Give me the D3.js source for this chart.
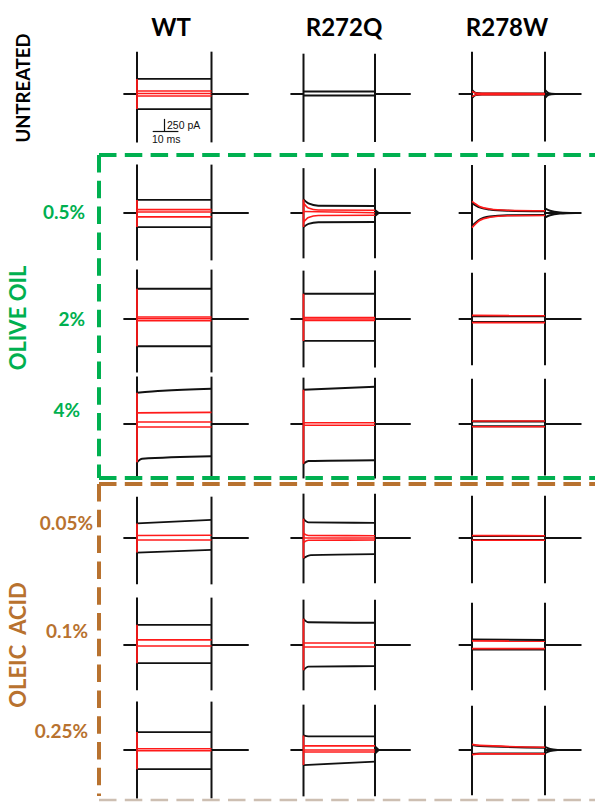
<!DOCTYPE html>
<html>
<head>
<meta charset="utf-8">
<script src="https://cdn.jsdelivr.net/npm/d3@7"></script>
<style>
  html, body { margin: 0; padding: 0; background: #fff; }
  svg { display: block; }
</style>
</head>
<body>
<script>
// Whole-cell current families, one panel per genotype and treatment.
// Currents in pA (outward positive), time in ms from the step onset.

const genotypes = ['WT', 'R272Q', 'R278W'];
const treatments = ['UNTREATED', 'OLIVE OIL', 'OLEIC  ACID'];
const doses = ['', '0.5%', '2%', '4%', '0.05%', '0.1%', '0.25%'];
const doseGroup = [0, 1, 1, 1, 2, 2, 2];

// sweep: start, step onset, step offset, end (ms)
const sweepMs = [-5.3, 0, 29, 43.5];

// capacitive transient peaks [outward, inward] per dose row
const capsWT    = [[840, -960], [960, -940], [980, -1060], [940, -1080], [820, -920], [940, -900], [960, -960]];
const capsR272Q = [[800, -950], [890, -900], [960, -960], [920, -1080], [880, -900], [900, -900], [900, -920]];
const capsR278W = [[840, -940], [950, -930], [920, -920], [900, -1020], [840, -900], [840, -900], [880, -900]];

// k = black sweep, r = red sweep; p = step current [ms, pA];
// on = onset transient peak of red sweep; t = tail after offset [ms, pA]
const tracesWT = [
  [ {k:'k', p:[[0, 300], [29, 300]]},
    {k:'k', p:[[0, -300], [29, -300]]},
    {k:'r', on: 300, p:[[0, 60], [29, 60]]},
    {k:'r', on: -300, p:[[0, -40], [29, -40]]},
    {k:'r', p:[[0, 10], [29, 10]]} ],
  [ {k:'k', p:[[0, 260], [29, 260]]},
    {k:'k', p:[[0, -280], [29, -280]]},
    {k:'r', on: 260, p:[[0, 65], [29, 65]]},
    {k:'r', on: -280, p:[[0, -75], [29, -75]]},
    {k:'r', p:[[0, 20], [29, 20]]} ],
  [ {k:'k', p:[[0, 600], [29, 600]]},
    {k:'k', p:[[0, -540], [29, -540]]},
    {k:'r', on: 600, p:[[0, 40], [29, 40]]},
    {k:'r', on: -540, p:[[0, -35], [29, -35]]},
    {k:'r', p:[[0, 5], [29, 5]]} ],
  [ {k:'k', p:[[0, 620], [10, 660], [29, 700]]},
    {k:'k', p:[[0, -760], [2, -690], [29, -640]]},
    {k:'r', on: 620, p:[[0, 220], [29, 230]]},
    {k:'r', on: -760, p:[[0, -60], [29, -60]]},
    {k:'r', p:[[0, 40], [29, 40]]} ],
  [ {k:'k', p:[[0, 290], [29, 360]]},
    {k:'k', p:[[0, -290], [29, -235]]},
    {k:'r', on: 290, p:[[0, 50], [29, 55]]},
    {k:'r', on: -290, p:[[0, -40], [29, -40]]} ],
  [ {k:'k', p:[[0, 400], [29, 400]]},
    {k:'k', p:[[0, -360], [29, -360]]},
    {k:'r', on: 400, p:[[0, 100], [29, 100]]},
    {k:'r', on: -360, p:[[0, -20], [29, -20]]} ],
  [ {k:'k', p:[[0, 355], [29, 355]]},
    {k:'k', p:[[0, -380], [29, -380]]},
    {k:'r', on: 355, p:[[0, 25], [29, 25]]},
    {k:'r', on: -380, p:[[0, -15], [29, -15]]} ]
];

const tracesR272Q = [
  [ {k:'k', p:[[0, 50], [29, 50]]},
    {k:'k', p:[[0, -30], [29, -30]]} ],
  [ {k:'k', p:[[0, 270], [2, 190], [6, 145], [29, 140]], t:[[0, -60], [1.5, 0]]},
    {k:'k', p:[[0, -280], [2, -215], [6, -185], [29, -180]], t:[[0, 60], [1.5, 0]]},
    {k:'r', on: 270, p:[[0, 200], [2, 100], [6, 60], [29, 55]]},
    {k:'r', on: -280, p:[[0, -185], [2, -90], [6, -50], [29, -45]]},
    {k:'r', p:[[0, 30], [29, 5]]} ],
  [ {k:'k', p:[[0, 500], [29, 500]]},
    {k:'k', p:[[0, -435], [29, -435]]},
    {k:'r', on: 500, p:[[0, 30], [29, 30]]},
    {k:'r', on: -435, p:[[0, -30], [29, -30]]},
    {k:'r', p:[[0, 0], [29, 0]]} ],
  [ {k:'k', p:[[0, 680], [29, 740]]},
    {k:'k', p:[[0, -790], [2, -735], [29, -720]]},
    {k:'r', on: 680, p:[[0, 25], [29, 25]]},
    {k:'r', on: -790, p:[[0, -25], [29, -25]]} ],
  [ {k:'k', p:[[0, 380], [2, 310], [29, 300]]},
    {k:'k', p:[[0, -400], [3, -340], [29, -320]]},
    {k:'r', on: 380, p:[[0, 90], [2, 50], [29, 45]]},
    {k:'r', on: -400, p:[[0, -90], [2, -45], [29, -40]]},
    {k:'r', p:[[0, 0], [29, 0]]} ],
  [ {k:'k', p:[[0, 520], [2, 450], [29, 440]]},
    {k:'k', p:[[0, -500], [2, -430], [29, -420]]},
    {k:'r', on: 520, p:[[0, 40], [29, 40]]},
    {k:'r', on: -500, p:[[0, -40], [29, -40]]} ],
  [ {k:'k', p:[[0, 290], [2, 270], [29, 270]], t:[[0, -70], [1.5, 0]]},
    {k:'k', p:[[0, -300], [29, -230]], t:[[0, 70], [1.5, 0]]},
    {k:'r', on: 290, p:[[0, 80], [29, 80]]},
    {k:'r', p:[[0, 0], [29, 0]]},
    {k:'r', on: -300, p:[[0, -40], [29, -40]]} ]
];

const tracesR278W = [
  [ {k:'k', p:[[0, 80], [1.5, 20], [4, 10], [29, 10]], t:[[0, -80], [1.5, -15], [4, 0]]},
    {k:'k', p:[[0, -80], [1.5, -20], [4, -10], [29, -10]], t:[[0, 80], [1.5, 15], [4, 0]]},
    {k:'r', p:[[0, 50], [2, 15], [29, 10]]},
    {k:'r', p:[[0, -50], [2, -15], [29, -10]]} ],
  [ {k:'k', p:[[0, 200], [3, 110], [7, 70], [14, 45], [29, 35]], t:[[0, -90], [2, -45], [6, -12], [12, 0]]},
    {k:'k', p:[[0, -260], [3, -130], [7, -70], [14, -45], [29, -40]], t:[[0, 90], [2, 45], [6, 12], [12, 0]]},
    {k:'r', p:[[0, 230], [3, 130], [7, 80], [14, 55], [29, 45]]},
    {k:'r', p:[[0, -290], [3, -150], [7, -85], [14, -55], [29, -50]]} ],
  [ {k:'k', p:[[0, 55], [29, 55]]},
    {k:'k', p:[[0, -60], [29, -60]]},
    {k:'r', p:[[0, 70], [29, 65]]},
    {k:'r', p:[[0, -70], [29, -70]]} ],
  [ {k:'k', p:[[0, 50], [29, 50]]},
    {k:'k', p:[[0, -45], [29, -45]]},
    {k:'r', p:[[0, 60], [29, 60]]},
    {k:'r', p:[[0, -55], [29, -55]]} ],
  [ {k:'k', p:[[0, 40], [29, 40]]},
    {k:'k', p:[[0, -40], [29, -40]]},
    {k:'r', p:[[0, 50], [29, 45]]},
    {k:'r', p:[[0, -45], [29, -45]]} ],
  [ {k:'k', p:[[0, 110], [29, 100]]},
    {k:'k', p:[[0, -90], [29, -90]]},
    {k:'r', p:[[0, 80], [29, 75]]},
    {k:'r', p:[[0, -70], [29, -70]]} ],
  [ {k:'k', p:[[0, 100], [3, 80], [29, 45]], t:[[0, -60], [2, -20], [5, 0]]},
    {k:'k', p:[[0, -80], [3, -70], [29, -70]], t:[[0, 60], [2, 20], [5, 0]]},
    {k:'r', p:[[0, 110], [3, 90], [29, 55]]},
    {k:'r', p:[[0, -90], [3, -75], [29, -75]]} ]
];

// scale bar values
const scaleBarMs = 10;
const scaleBarPA = 250;

const capsBy = [capsWT, capsR272Q, capsR278W];
const tracesBy = [tracesWT, tracesR272Q, tracesR278W];

// ---------- layout ----------
const W = 595, H = 802;
const GREEN = '#00b050', BROWN = '#b8722f', RED = '#ff1a1a', INK = '#111';
const rowY = [94, 213, 319, 424, 538, 645, 750];
const colOnset = [137, 303.5, 472];
const colStepPx = [74.5, 71.5, 73];
const headerX = [171, 344, 507];
const doseX = [0, 85, 85, 80, 93, 88, 88];
const doseY = [0, 219, 326, 417, 530, 638, 738];

const svg = d3.select('body').append('svg')
  .attr('width', W).attr('height', H)
  .attr('viewBox', `0 0 ${W} ${H}`);
svg.append('rect').attr('width', W).attr('height', H).attr('fill', '#fff');

const xScales = colOnset.map((x0, i) =>
  d3.scaleLinear().domain([0, sweepMs[2]]).range([x0, x0 + colStepPx[i]]));
const yPA = d3.scaleLinear().domain([0, scaleBarPA]).range([0, -12.6]);

const stepLine = d3.line().curve(d3.curveMonotoneX);
const straight = d3.line();

genotypes.forEach((gName, c) => {
  const x = xScales[c];
  rowY.forEach((y0, r) => {
    const g = svg.append('g').attr('class', `panel ${gName}-${r}`);
    const Y = v => y0 + yPA(v);
    const X = t => x(t);
    const tOff = sweepMs[2];

    // holding baseline before and after the step
    g.append('path')
      .attr('d', straight([[X(sweepMs[0]), Y(0)], [X(0), Y(0)]]))
      .attr('stroke', INK).attr('stroke-width', 2).attr('fill', 'none');
    g.append('path')
      .attr('d', straight([[X(tOff), Y(0)], [X(sweepMs[3]), Y(0)]]))
      .attr('stroke', INK).attr('stroke-width', 2).attr('fill', 'none');

    const traces = tracesBy[c][r];
    const drawTrace = tr => {
      const col = tr.k === 'r' ? RED : INK;
      const sw = tr.k === 'r' ? 1.7 : 1.9;
      if (tr.on !== undefined) {
        g.append('path')
          .attr('d', straight([[X(0), Y(0)], [X(0), Y(tr.on)], [X(0), Y(tr.p[0][1])]]))
          .attr('stroke', col).attr('stroke-width', 1.8).attr('fill', 'none');
      }
      g.append('path')
        .attr('d', stepLine(tr.p.map(d => [X(d[0]), Y(d[1])])))
        .attr('stroke', col).attr('stroke-width', sw).attr('fill', 'none');
      if (tr.t) {
        g.append('path')
          .attr('d', stepLine(tr.t.map(d => [X(tOff + d[0]), Y(d[1])])))
          .attr('stroke', col).attr('stroke-width', sw).attr('fill', 'none');
      }
    };

    traces.filter(t => t.k === 'k').forEach(drawTrace);

    // capacitive transients at step onset and offset
    const cap = capsBy[c][r];
    [0, tOff].forEach(t => {
      g.append('line')
        .attr('x1', X(t)).attr('x2', X(t))
        .attr('y1', Y(cap[0])).attr('y2', Y(cap[1]))
        .attr('stroke', INK).attr('stroke-width', 2);
    });

    traces.filter(t => t.k === 'r').forEach(drawTrace);
  });
});

// scale bar (WT time base)
{
  const x = xScales[0];
  const xv = 164.5, yb = 131.5;
  const t0 = x.invert(152.7);
  svg.append('line')
    .attr('x1', x(t0)).attr('x2', x(t0 + scaleBarMs))
    .attr('y1', yb).attr('y2', yb)
    .attr('stroke', INK).attr('stroke-width', 1.2);
  svg.append('line')
    .attr('x1', xv).attr('x2', xv)
    .attr('y1', yb).attr('y2', yb + yPA(scaleBarPA))
    .attr('stroke', INK).attr('stroke-width', 1.2);
  svg.append('text').attr('x', 167).attr('y', 129)
    .attr('font-family', 'Liberation Sans, Arial, sans-serif').attr('font-size', 10.5)
    .attr('fill', INK).text(`${scaleBarPA} pA`);
  svg.append('text').attr('x', 152).attr('y', 142.5)
    .attr('font-family', 'Liberation Sans, Arial, sans-serif').attr('font-size', 10.5)
    .attr('fill', INK).text(`${scaleBarMs} ms`);
}

// column headers
svg.selectAll('text.hdr').data(genotypes).join('text')
  .attr('class', 'hdr')
  .attr('x', (d, i) => headerX[i]).attr('y', 36)
  .attr('text-anchor', 'middle')
  .attr('font-family', 'Lato, "Open Sans", sans-serif')
  .attr('font-weight', 700).attr('font-size', 24)
  .attr('fill', '#000').text(d => d);

// treatment labels (rotated)
const treatPos = [[29.5, 88, '#000', 18.5], [26, 318, GREEN, 22], [26, 645, BROWN, 22]];
treatments.forEach((t, i) => {
  const [tx, ty, col, fs] = treatPos[i];
  svg.append('text')
    .attr('transform', `translate(${tx},${ty}) rotate(-90)`)
    .attr('text-anchor', 'middle')
    .attr('font-family', 'Lato, "Open Sans", sans-serif')
    .attr('font-weight', 700).attr('font-size', fs)
    .attr('fill', col)
    .style('white-space', 'pre')
    .text(t);
});

// dose labels
doses.forEach((d, i) => {
  if (!d) return;
  svg.append('text')
    .attr('x', doseX[i]).attr('y', doseY[i])
    .attr('text-anchor', 'end')
    .attr('font-family', 'Lato, "Open Sans", sans-serif')
    .attr('font-weight', 700).attr('font-size', 19)
    .attr('fill', doseGroup[i] === 1 ? GREEN : BROWN)
    .text(d);
});

// dashed group frames
const dash = '17.5,8.3';
const frame = (pts, col, w, da) => svg.append('path')
  .attr('d', straight(pts)).attr('fill', 'none')
  .attr('stroke', col).attr('stroke-width', w)
  .attr('stroke-dasharray', da);
frame([[99, 155], [W + 5, 155]], GREEN, 4, dash);
frame([[99, 155], [99, 478]], GREEN, 4, dash);
frame([[99, 478], [W + 5, 478]], GREEN, 4, dash);
frame([[99, 484], [W + 5, 484]], BROWN, 4, dash);
frame([[99, 484], [99, 796]], BROWN, 4, dash);
frame([[99, 800], [W + 5, 800]], '#cdbfb2', 2.5, dash);
</script>
</body>
</html>
